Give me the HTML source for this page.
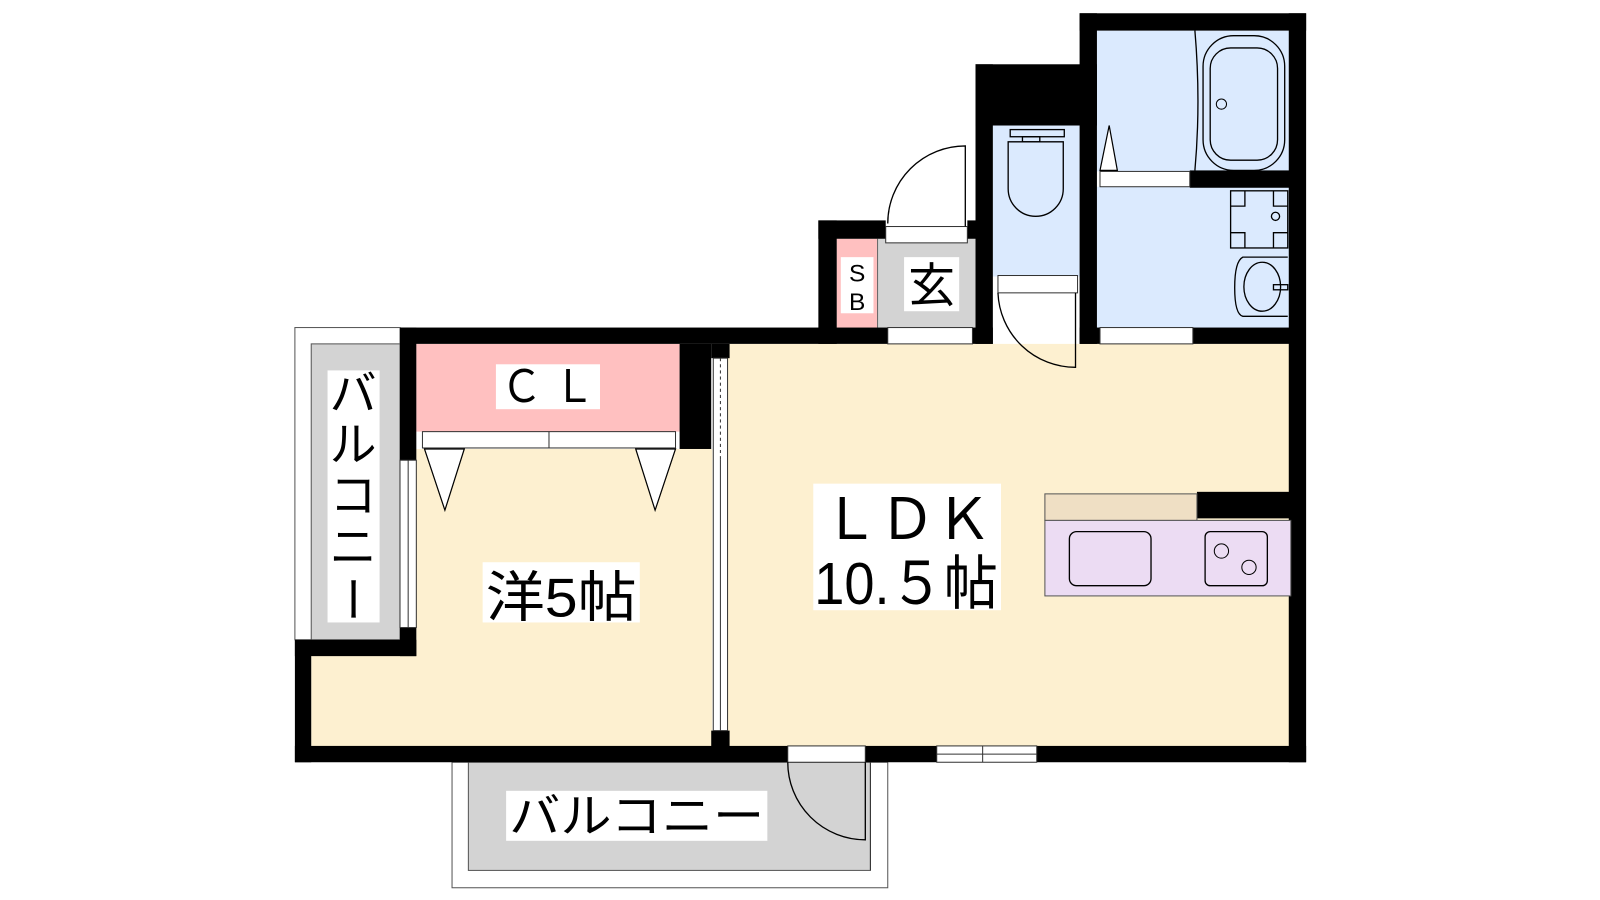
<!DOCTYPE html>
<html><head><meta charset="utf-8"><style>
html,body{margin:0;padding:0;background:#fff;width:1600px;height:900px;overflow:hidden}
svg{display:block}
text{font-family:"Liberation Sans","Noto Sans CJK JP",sans-serif;fill:#000}
</style></head><body>
<svg width="1600" height="900" viewBox="0 0 1568 882" xmlns="http://www.w3.org/2000/svg">
<!-- balconies -->
<rect x="289" y="321" width="103" height="306" fill="#fff" stroke="#555" stroke-width="1"/>
<rect x="305" y="337" width="87" height="290" fill="#d3d3d3" stroke="#555" stroke-width="1"/>
<rect x="443" y="747" width="427" height="123" fill="#fff" stroke="#555" stroke-width="1"/>
<rect x="459" y="747" width="394" height="106" fill="#d3d3d3" stroke="#555" stroke-width="1"/>
<!-- floors -->
<rect x="408" y="440" width="290" height="292" fill="#fdf0d0"/>
<rect x="305" y="640" width="110" height="92" fill="#fdf0d0"/>
<rect x="713" y="337" width="552" height="395" fill="#fdf0d0"/>
<rect x="408" y="337" width="258" height="86" fill="#ffc0c0"/>
<rect x="973" y="123" width="85" height="148" fill="#dbeafe"/>
<rect x="1075" y="30" width="190" height="138" fill="#dbeafe"/>
<rect x="1075" y="183" width="190" height="140" fill="#dbeafe"/>
<rect x="860" y="234" width="96" height="88" fill="#d3d3d3"/>
<rect x="820" y="234" width="40" height="88" fill="#ffc0c0"/>
<line x1="860" y1="234" x2="860" y2="321" stroke="#666" stroke-width="1"/>
<!-- walls -->
<g fill="#000">
<rect x="289" y="731" width="991" height="16"/>
<rect x="1263" y="13" width="17" height="734"/>
<rect x="1058" y="13" width="222" height="17"/>
<rect x="1058" y="13" width="17" height="324"/>
<rect x="956" y="63" width="119" height="60"/>
<rect x="956" y="63" width="17" height="274"/>
<rect x="802" y="216" width="66" height="18"/>
<rect x="948" y="216" width="10" height="18"/>
<rect x="802" y="216" width="18" height="121"/>
<rect x="392" y="321" width="581" height="16"/>
<rect x="392" y="321" width="16" height="130"/>
<rect x="392" y="615" width="16" height="28"/>
<rect x="289" y="627" width="119" height="16"/>
<rect x="289" y="627" width="16" height="120"/>
<rect x="666" y="337" width="31" height="103"/>
<rect x="697" y="337" width="18" height="14"/>
<rect x="697" y="716" width="18" height="16"/>
<rect x="1166" y="167" width="99" height="17"/>
<rect x="1058" y="321" width="207" height="16"/>
<rect x="1173" y="482" width="92" height="26"/>
</g>
<!-- door/window strips -->
<g fill="#fff" stroke="#333" stroke-width="1">
<rect x="868" y="222" width="80" height="16"/>
<rect x="870" y="321" width="83" height="16"/>
<rect x="978" y="270" width="78" height="17"/>
<rect x="1078" y="168" width="88" height="15"/>
<rect x="1078" y="321" width="91" height="16"/>
<rect x="414" y="423" width="248" height="16"/>
<rect x="772" y="731" width="76" height="16"/>
<rect x="918" y="731" width="98" height="16"/>
<rect x="392" y="451" width="16" height="164"/>
<rect x="699" y="351" width="14" height="365"/>
</g>
<line x1="538" y1="423" x2="538" y2="439" stroke="#333"/>
<line x1="918" y1="739" x2="1016" y2="739" stroke="#333"/>
<line x1="963" y1="731" x2="963" y2="747" stroke="#333"/>
<line x1="400" y1="451" x2="400" y2="615" stroke="#333"/>
<line x1="706" y1="351" x2="706" y2="450" stroke="#333" stroke-dasharray="3,3"/>
<line x1="706" y1="450" x2="706" y2="716" stroke="#333"/>
<!-- closet door triangles -->
<g fill="#fff" stroke="#000" stroke-width="1.2">
<polygon points="416,440 455,440 436,500"/>
<polygon points="623,440 662,440 642,500"/>
<polygon points="1078,167 1095,167 1087,123"/>
</g>
<!-- door swings -->
<g fill="none" stroke="#000" stroke-width="1.3">
<path d="M946,222 L946,143 A76,76 0 0 0 870,219"/>
<path d="M1054,287 L1054,360 A76,76 0 0 1 978,287"/>
<path d="M848,747 L848,823 A76,76 0 0 1 772,747"/>
<path d="M1171,30 Q1177,100 1171,167"/>
</g>
<line x1="853" y1="747" x2="853" y2="853" stroke="#333"/>
<!-- bath tub -->
<rect x="1179" y="35" width="80" height="132" rx="30" fill="none" stroke="#000" stroke-width="1.3"/>
<rect x="1186" y="47" width="66" height="110" rx="20" fill="none" stroke="#000" stroke-width="1.3"/>
<circle cx="1197" cy="102" r="5" fill="none" stroke="#000"/>
<!-- toilet -->
<g fill="none" stroke="#000" stroke-width="1.3">
<rect x="990" y="127" width="53" height="7"/>
<rect x="1002" y="134" width="17" height="5"/>
<path d="M988,139 L1042,139 L1042,185 A26,26 0 0 1 988,185 Z"/>
<!-- washer -->
<rect x="1206" y="187" width="56" height="56"/>
<path d="M1206,202 h14 v-15 M1248,187 v15 h14 M1206,228 h14 v15 M1248,243 v-15 h14"/>
<circle cx="1250" cy="212" r="4"/>
<!-- sink -->
<path d="M1262,252 L1218,252 Q1210,256 1210,282 Q1210,308 1218,310 L1262,310"/>
<ellipse cx="1237" cy="281" rx="18" ry="24"/>
<rect x="1248" y="279" width="14" height="5"/>
<!-- kitchen -->
</g>
<rect x="1024" y="484" width="149" height="26" fill="#efdfc4" stroke="#555"/>
<rect x="1024" y="510" width="241" height="74" fill="#ecdcf3" stroke="#555"/>
<rect x="1048" y="521" width="80" height="53" rx="7" fill="none" stroke="#000" stroke-width="1.3"/>
<rect x="1181" y="521" width="61" height="53" rx="5" fill="none" stroke="#000" stroke-width="1.3"/>
<circle cx="1197" cy="540" r="7" fill="none" stroke="#000"/>
<circle cx="1224" cy="556" r="7" fill="none" stroke="#000"/>
<!-- label boxes -->
<g fill="#fff">
<rect x="486" y="357" width="102" height="44"/>
<rect x="797" y="474" width="184" height="124"/>
<rect x="473" y="551" width="154" height="59"/>
<rect x="886" y="252" width="54" height="53"/>
<rect x="824" y="252" width="32" height="55"/>
<rect x="321" y="363" width="51" height="247"/>
<rect x="496" y="775" width="256" height="49"/>
</g>
<text x="537" y="394" font-size="44" text-anchor="middle" textLength="92" lengthAdjust="spacingAndGlyphs">Ｃ Ｌ</text>
<text x="889" y="528" font-size="56" text-anchor="middle" textLength="166" lengthAdjust="spacingAndGlyphs">ＬＤＫ</text>
<text x="888" y="592" font-size="58" text-anchor="middle" textLength="180" lengthAdjust="spacingAndGlyphs">10.５帖</text>
<text x="550" y="604" font-size="54" text-anchor="middle" textLength="148" lengthAdjust="spacingAndGlyphs">洋5帖</text>
<text x="913" y="296" font-size="46" text-anchor="middle">玄</text>
<text x="840" y="276" font-size="24" text-anchor="middle">S</text>
<text x="840" y="304" font-size="24" text-anchor="middle">B</text>
<text x="624" y="816" font-size="46" text-anchor="middle" textLength="250" lengthAdjust="spacingAndGlyphs">バルコニー</text>
<g font-size="46" text-anchor="middle">
<text x="346" y="402">バ</text>
<text x="346" y="452">ル</text>
<text x="346" y="502">コ</text>
<text x="346" y="552">ニ</text>
<text x="346" y="604" transform="rotate(90 346 587)">ー</text>
</g>
</svg>
</body></html>
